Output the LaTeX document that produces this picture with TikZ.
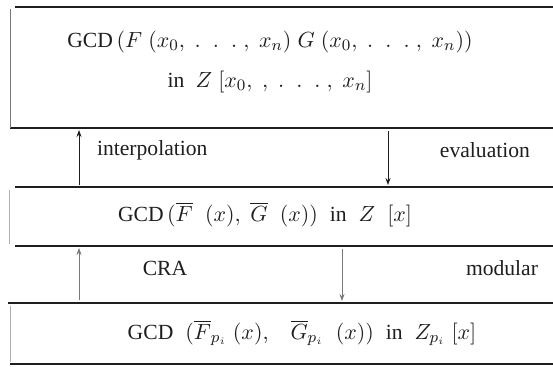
\documentclass[tikz,border=0pt]{standalone}
\usepackage{fontspec}
\setmainfont{Liberation Serif}
\usepackage{amsmath}
\usetikzlibrary{arrows.meta}
\definecolor{encre}{RGB}{30,30,30}
\definecolor{gris}{RGB}{120,120,120}

\begin{document}
\begin{tikzpicture}[x=0.5pt,y=-0.5pt,font=\fontsize{10.8}{12}\selectfont,text=encre,
	trait/.style={encre,line width=0.7pt},
	fleche/.style={encre,line width=0.4pt,-{Stealth[length=3.5pt,width=2.5pt]}}]
	\useasboundingbox (0,0) rectangle (553,366);
	\draw[trait] (15,7)--(553,7);
	\draw[trait] (10,128)--(553,128);
	\draw[trait] (15,187)--(553,187);
	\draw[trait] (15,246)--(553,246);
	\draw[trait] (8,303)--(553,303);
	\draw[trait] (10,364)--(553,364);
	\draw[gris,thin] (10,9)--(10,128);
	\draw[gris!60,very thin] (9,190)--(9,244);
	\draw[gris!60,very thin] (10,306)--(10,362);

	\node (haut1) at (270,42) {GCD\,$(F\;(x_0,\;.\;\;.\;\;.\;,\;x_n)\;G\;(x_0,\;.\;\;.\;\;.\;,\;x_n))$};
	\node (haut2) at (270,82) {in\; $Z\;[x_0,\;,\;.\;\;.\;\;.\;,\;x_n]$};
	\node[anchor=west] (interp) at (90,150) {interpolation};
	\node[anchor=east] (eval) at (537,150) {evaluation};
	\node (milieu) at (265,215) {GCD\,$(\overline{F}\;\;(x),\;\overline{G}\;\;(x))$\;\;in\;\;$Z\;\;[x]$};
	\node (cra) at (165,268) {CRA};
	\node (modul) at (502,268) {modular};
	\node (bas) at (302,333) {GCD\;\;$(\overline{F}_{p_i}\;(x),\;\;\;\overline{G}_{p_i}\;\;(x))$\;\;in\;\;$Z_{p_i}\;[x]$};

	\coordinate (i1) at (79,185); \coordinate (i2) at (79,130);
	\coordinate (e1) at (388,131); \coordinate (e2) at (388,185);
	\coordinate (c1) at (79,300); \coordinate (c2) at (79,248);
	\coordinate (m1) at (342,249); \coordinate (m2) at (342,301);
	\draw[fleche] (i1)--(i2);
	\draw[fleche] (e1)--(e2);
	\draw[fleche,gris] (c1)--(c2);
	\draw[fleche,gris] (m1)--(m2);
\end{tikzpicture}
\end{document}
